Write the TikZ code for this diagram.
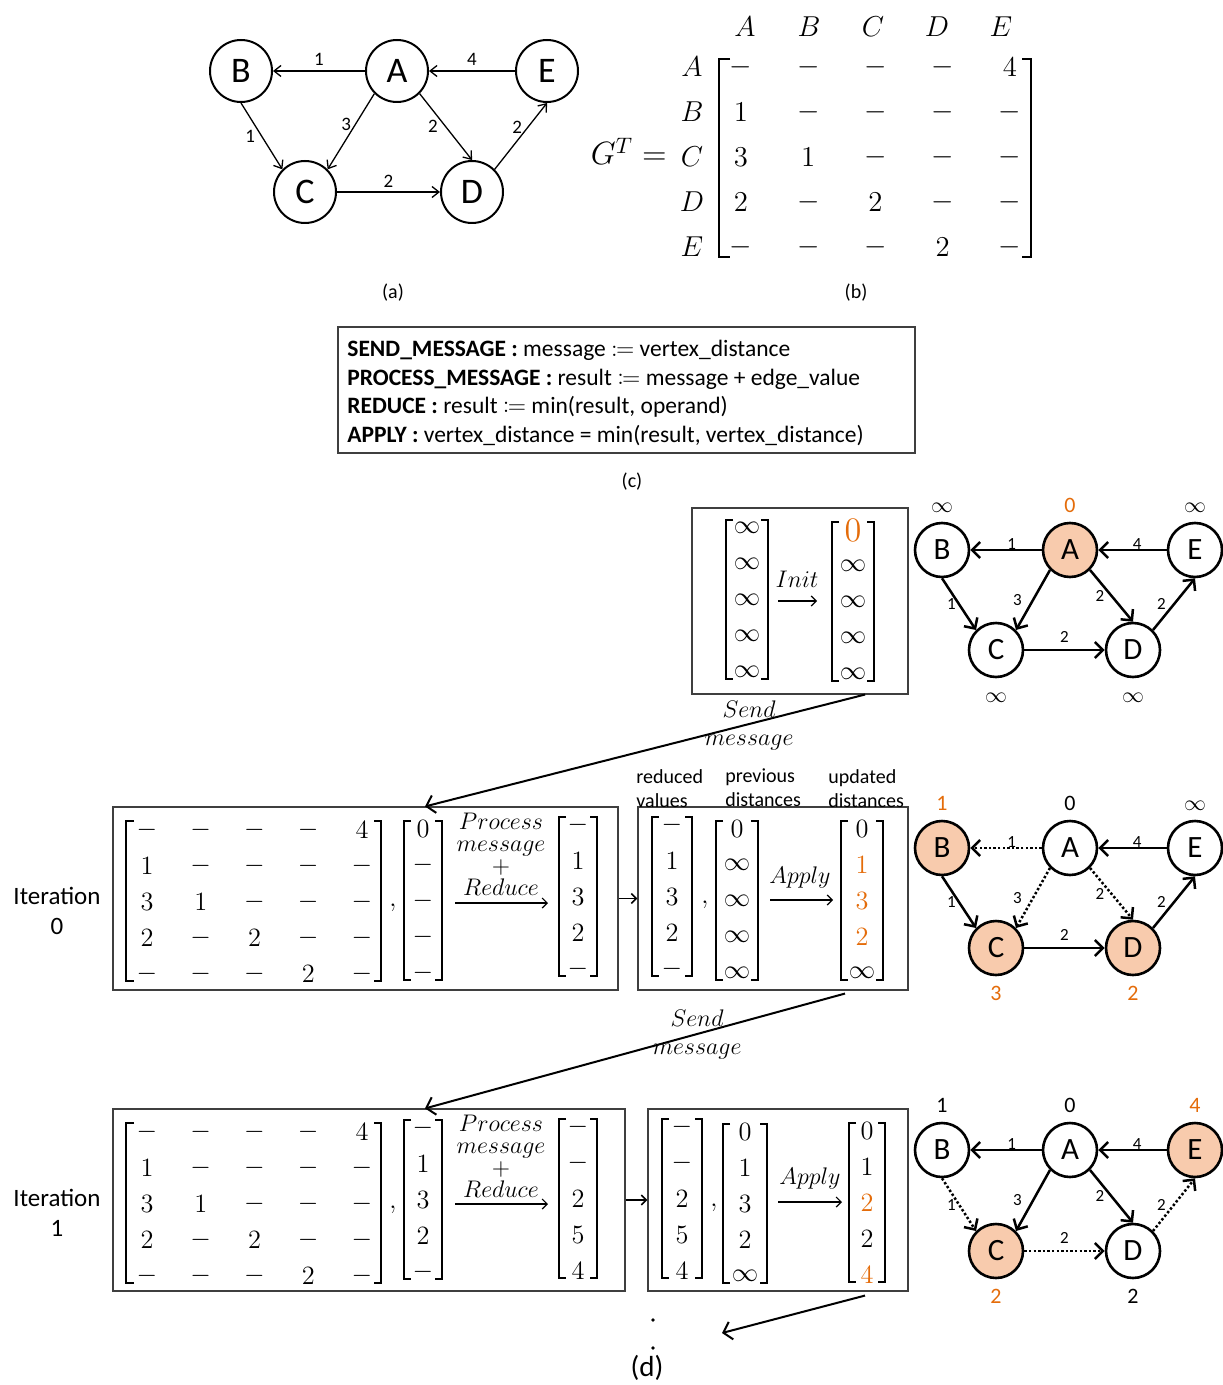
\documentclass[tikz,border=0pt]{standalone}
\usepackage{amsmath,mathtools}
\usepackage{fontspec}
\setmainfont{Carlito}
\usepackage{xcolor}
\usepackage{tikz}
\usetikzlibrary{arrows.meta,positioning,calc}
\definecolor{orng}{HTML}{E46C0A}
\definecolor{hotfill}{HTML}{F8CBAD}
\definecolor{frm}{HTML}{3F3F3F}
\tikzset{
  vtx/.style={circle,draw,line width=1pt,minimum size=31pt,inner sep=0pt,font=\fontsize{18}{18}\selectfont},
  vtxd/.style={circle,draw,line width=1.3pt,minimum size=27pt,inner sep=0pt,font=\fontsize{15.5}{15.5}\selectfont},
  ed/.style={-{Straight Barb[length=3.5pt,width=5.5pt]},line width=0.65pt},
  edd/.style={-{Straight Barb[length=4pt,width=8pt]},line width=1.25pt},
  dot/.style={dash pattern=on 1.2pt off 1.1pt},
  wt/.style={font=\fontsize{9.5}{10}\selectfont,inner sep=1pt},
  wtd/.style={font=\fontsize{8.5}{9}\selectfont,inner sep=1pt},
  dist/.style={font=\fontsize{11}{11}\selectfont,inner sep=0pt,text height=7pt,text depth=0pt},
  ent/.style={font=\fontsize{12}{12}\selectfont,inner sep=0pt},
  entb/.style={font=\fontsize{14.4}{15}\selectfont,inner sep=0pt},
  brk/.style={line width=0.9pt},
  frame/.style={draw=frm,line width=0.55pt},
  mar/.style={-{Straight Barb[length=2.5pt,width=5pt]},line width=0.6pt},
  sar/.style={-{Straight Barb[length=4pt,width=9pt]},line width=1pt},
  mlbl/.style={font=\fontsize{12}{11}\selectfont,align=center,inner sep=0pt},
  sendlbl/.style={font=\fontsize{12}{14}\selectfont,align=center,inner sep=0pt},
  txt/.style={font=\fontsize{10}{12}\selectfont,align=left,inner sep=0pt},
  itl/.style={font=\fontsize{12.5}{15}\selectfont,align=center,inner sep=0pt},
  sub/.style={font=\fontsize{10}{12}\selectfont,inner sep=0pt}
}
\newcommand{\mv}[1]{\scalebox{1.1}{$#1$}}
\newcommand{\bigz}{\textcolor{orng}{\scalebox{1.3}{$0$}}}
% column vector: name, x, y of first entry, half width, entries
\newcommand{\colv}[5]{%
  \foreach \val [count=\idx] in {#5}
    \node[ent] (#1-\idx) at (#2,{#3+36*(\idx-1)}) {\mv{\val}};
  \draw[brk] (#2-#4+7,#3-8) -- (#2-#4,#3-8) -- (#2-#4,#3+151) -- (#2-#4+7,#3+151);
  \draw[brk] (#2+#4-7,#3-8) -- (#2+#4,#3-8) -- (#2+#4,#3+151) -- (#2+#4-7,#3+151);
}
\def\gtrows{{-,-,-,-,4},{1,-,-,-,-},{3,1,-,-,-},{2,-,2,-,-},{-,-,-,2,-}}
% transposed graph matrix: name, y of first row
\newcommand{\gmat}[2]{%
  \foreach \row [count=\ri] in \gtrows
    \foreach \val [count=\ci] in \row
      \node[ent] (#1-\ri-\ci) at ({147+53.75*(\ci-1)},{#2+36*(\ri-1)}) {\mv{\val}};
  \draw[brk] (134,#2-9) -- (126,#2-9) -- (126,#2+151) -- (134,#2+151);
  \draw[brk] (374,#2-9) -- (381,#2-9) -- (381,#2+151) -- (374,#2+151);
}

\begin{document}
\begin{tikzpicture}[x=0.5pt,y=-0.5pt]
\useasboundingbox (0,0) rectangle (1222,1385);

% (a) graph
\node[vtx] (a-B) at (241,71) {B};
\node[vtx] (a-A) at (397,71) {A};
\node[vtx] (a-E) at (547,71) {E};
\node[vtx] (a-C) at (305,192) {C};
\node[vtx] (a-D) at (472,192) {D};
\draw[ed] (a-A.west) -- node[wt,above=1.5pt]{1} (a-B.east);
\draw[ed] (a-E.west) -- node[wt,above=1.5pt]{4} (a-A.east);
\draw[ed] (a-B.south) -- node[wt,left=2pt]{1} (a-C.135);
\draw[ed] (a-A.-135) -- node[wt,pos=0.4,left=1pt]{3} (a-C.45);
\draw[ed] (a-A.-45) -- node[wt,left=2.7pt]{2} (a-D.north);
\draw[ed] (a-D.45) -- node[wt,pos=0.63,left=1.5pt]{2} (a-E.south);
\draw[ed] (a-C.east) -- node[wt,above=1pt]{2} (a-D.west);
\node[sub] (lbl-a) at (393,293) {(a)};

% (b) matrix
\node[entb,anchor=base east] (gt-eq) at (667,165) {\scalebox{1.12}{$G^T =$}};
\foreach \l [count=\ri] in {A,B,C,D,E} {
  \node[entb] (gt-r\ri) at (692,{67+45*(\ri-1)}) {$\l$};
  \node[entb] (gt-c\ri) at ({745+64*(\ri-1)},27) {$\l$};
}
\foreach \row [count=\ri] in \gtrows
  \foreach \val [count=\ci] in \row
    \node[entb] (gt-\ri-\ci) at ({741+67.25*(\ci-1)},{67+45*(\ri-1)}) {$\val$};
\draw[brk] (730,59) -- (719,59) -- (719,257) -- (730,257);
\draw[brk] (1022,59) -- (1031,59) -- (1031,257) -- (1022,257);
\node[sub] (lbl-b) at (856,293) {(b)};

% (c) operators
\node[frame,minimum width=288.5pt,minimum height=63pt] (opsbox) at (626.5,390) {};
\node[align=left,inner sep=0pt,anchor=west,font=\fontsize{11.75}{14.2}\selectfont] (ops) at (347,393)
  {\textbf{SEND\_MESSAGE :} message $\coloneqq$ vertex\_distance\\
   \textbf{PROCESS\_MESSAGE :} result $\coloneqq$ message + edge\_value\\
   \textbf{REDUCE :} result $\coloneqq$ min(result, operand)\\
   \textbf{APPLY :} vertex\_distance = min(result, vertex\_distance)};
\node[sub] (lbl-c) at (632,482) {(c)};

% (d) init
\node[frame,minimum width=108pt,minimum height=93pt] (initbox) at (800,601) {};
\colv{iv0}{747}{528}{21}{\infty,\infty,\infty,\infty,\infty}
\colv{iv1}{853}{530}{21}{\bigz,\infty,\infty,\infty,\infty}
\coordinate (ia) at (778,601);
\coordinate (ib) at (817,601);
\draw[mar] (ia) -- (ib);
\node[mlbl] (init-l) at (797,579) {$Init$};

\foreach \n/\x/\y/\fc/\dy/\lt in {B/942/550/white/22.5/$\infty$, A/1070/550/hotfill/22.5/\textcolor{orng}{0},
    E/1195/550/white/22.5/$\infty$, C/996/650/white/-22.5/$\infty$, D/1133/650/white/-22.5/$\infty$} {
  \node[vtxd,fill=\fc] (g0-\n) at (\x,\y) {\n};
  \node[dist] (g0-\n-d) at ([yshift=\dy pt]g0-\n.center) {\lt};
}
\draw[edd] (g0-A.west) -- node[wtd,pos=0.42,above=-1.5pt]{1} (g0-B.east);
\draw[edd] (g0-E.west) -- node[wtd,pos=0.43,above=-1.5pt]{4} (g0-A.east);
\draw[edd] (g0-B.south) -- node[wtd,left=0pt]{1} (g0-C.135);
\draw[edd] (g0-A.-135) -- node[wtd,left=4pt]{3} (g0-C.45);
\draw[edd] (g0-A.-45) -- node[wtd,left=2pt]{2} (g0-D.north);
\draw[edd] (g0-D.45) -- node[wtd,left=2.5pt]{2} (g0-E.south);
\draw[edd] (g0-C.east) -- node[wtd,above=2pt]{2} (g0-D.west);

% iteration 0
\node[itl] (it0) at (57,911) {Iteration\\0};
\node[frame,minimum width=252.5pt,minimum height=91.5pt] (b0l) at (365.5,898.5) {};
\gmat{m0}{830}
\node[ent] (m0-comma) at (393,908) {\mv{,}};
\colv{p0}{423}{829}{19}{0,-,-,-,-}
\node[mlbl] (pm0) at (501,854) {$Process$\\$message$\\$+$\\$Reduce$};
\coordinate (pa0) at (455,903);
\coordinate (pb0) at (548,903);
\draw[mar] (pa0) -- (pb0);
\colv{r0}{578}{825}{19}{-,1,3,2,-}

\node[frame,minimum width=135pt,minimum height=91.5pt] (b0r) at (773,898.5) {};
\draw[mar,line width=0.8pt] (b0l.east) -- (b0r.west);
\node[txt,anchor=west] (t-red) at (636,789) {reduced\\values};
\node[txt,anchor=west] (t-prev) at (725,788) {previous\\distances};
\node[txt,anchor=west] (t-upd) at (828,789) {updated\\distances};
\colv{q0}{672}{825}{20}{-,1,3,2,-}
\node[ent] (q0-comma) at (705,905) {\mv{,}};
\colv{d0}{737}{829}{21}{0,\infty,\infty,\infty,\infty}
\node[mlbl] (ap0) at (800,877) {$Apply$};
\coordinate (aa0) at (770,900);
\coordinate (ab0) at (833,900);
\draw[mar] (aa0) -- (ab0);
\colv{u0}{862}{829}{21}{0,\textcolor{orng}{1},\textcolor{orng}{3},\textcolor{orng}{2},\infty}

\foreach \n/\x/\y/\fc/\dy/\lt in {B/942/848/hotfill/22.5/\textcolor{orng}{1}, A/1070/848/white/22.5/0,
    E/1195/848/white/22.5/$\infty$, C/996/948/hotfill/-22.5/\textcolor{orng}{3}, D/1133/948/hotfill/-22.5/\textcolor{orng}{2}} {
  \node[vtxd,fill=\fc] (g1-\n) at (\x,\y) {\n};
  \node[dist] (g1-\n-d) at ([yshift=\dy pt]g1-\n.center) {\lt};
}
\draw[edd,dot] (g1-A.west) -- node[wtd,pos=0.42,above=-1.5pt]{1} (g1-B.east);
\draw[edd] (g1-E.west) -- node[wtd,pos=0.43,above=-1.5pt]{4} (g1-A.east);
\draw[edd] (g1-B.south) -- node[wtd,left=0pt]{1} (g1-C.135);
\draw[edd,dot] (g1-A.-135) -- node[wtd,left=4pt]{3} (g1-C.45);
\draw[edd,dot] (g1-A.-45) -- node[wtd,left=2pt]{2} (g1-D.north);
\draw[edd] (g1-D.45) -- node[wtd,left=2.5pt]{2} (g1-E.south);
\draw[edd] (g1-C.east) -- node[wtd,above=2pt]{2} (g1-D.west);

% iteration 1
\node[itl] (it1) at (57,1213) {Iteration\\1};
\node[frame,minimum width=256pt,minimum height=91pt] (b1l) at (369,1200) {};
\gmat{m1}{1132}
\node[ent] (m1-comma) at (393,1210) {\mv{,}};
\colv{p1}{423}{1128}{19}{-,1,3,2,-}
\node[mlbl] (pm1) at (501,1156) {$Process$\\$message$\\$+$\\$Reduce$};
\coordinate (pa1) at (455,1204);
\coordinate (pb1) at (548,1204);
\draw[mar] (pa1) -- (pb1);
\colv{r1}{578}{1127}{19}{-,-,2,5,4}

\node[frame,minimum width=130pt,minimum height=91pt] (b1r) at (778,1200) {};
\draw[mar,line width=0.8pt] (b1l.east) -- (b1r.west);
\colv{q1}{682}{1127}{20}{-,-,2,5,4}
\node[ent] (q1-comma) at (714,1208) {\mv{,}};
\colv{d1}{745}{1132}{22}{0,1,3,2,\infty}
\node[mlbl] (ap1) at (810,1178) {$Apply$};
\coordinate (aa1) at (778,1202);
\coordinate (ab1) at (842,1202);
\draw[mar] (aa1) -- (ab1);
\colv{u1}{867}{1131}{18}{0,1,\textcolor{orng}{2},2,\textcolor{orng}{4}}

\foreach \n/\x/\y/\fc/\dy/\lt in {B/942/1150/white/22.5/1, A/1070/1150/white/22.5/0,
    E/1195/1150/hotfill/22.5/\textcolor{orng}{4}, C/996/1251/hotfill/-22.5/\textcolor{orng}{2}, D/1133/1251/white/-22.5/2} {
  \node[vtxd,fill=\fc] (g2-\n) at (\x,\y) {\n};
  \node[dist] (g2-\n-d) at ([yshift=\dy pt]g2-\n.center) {\lt};
}
\draw[edd] (g2-A.west) -- node[wtd,pos=0.42,above=-1.5pt]{1} (g2-B.east);
\draw[edd] (g2-E.west) -- node[wtd,pos=0.43,above=-1.5pt]{4} (g2-A.east);
\draw[edd,dot] (g2-B.south) -- node[wtd,left=0pt]{1} (g2-C.135);
\draw[edd] (g2-A.-135) -- node[wtd,left=4pt]{3} (g2-C.45);
\draw[edd] (g2-A.-45) -- node[wtd,left=2pt]{2} (g2-D.north);
\draw[edd,dot] (g2-D.45) -- node[wtd,left=2.5pt]{2} (g2-E.south);
\draw[edd,dot] (g2-C.east) -- node[wtd,above=2pt]{2} (g2-D.west);

% send message arrows
\coordinate (s1a) at ([xshift=32.5pt]initbox.south);
\coordinate (s1b) at ([xshift=29.75pt]b0l.north);
\draw[sar] (s1a) -- (s1b);
\node[sendlbl] (sm1) at (749,725) {$Send$\\$message$};
\coordinate (s2a) at ([xshift=36pt,yshift=-1.5pt]b0r.south);
\coordinate (s2b) at ([xshift=28pt]b1l.north);
\draw[sar] (s2a) -- (s2b);
\node[sendlbl] (sm2) at (697,1034) {$Send$\\$message$};
\coordinate (s3a) at ([xshift=43.5pt,yshift=-2pt]b1r.south);
\coordinate (s3b) at (722,1333);
\draw[sar] (s3a) -- (s3b);

\fill (653,1320) circle (0.9pt);
\fill (653,1348) circle (0.9pt);
\node[sub,font=\fontsize{14.5}{16}\selectfont] (lbl-d) at (647,1368) {(d)};
\end{tikzpicture}
\end{document}
